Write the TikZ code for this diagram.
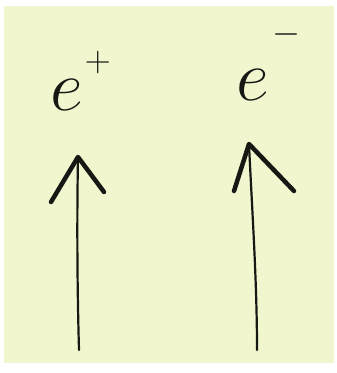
\RequirePackage{fix-cm}
\documentclass[tikz,border=0pt]{standalone}
\definecolor{paper}{RGB}{241,246,206}
\definecolor{ink}{RGB}{22,24,20}
\begin{document}
\begin{tikzpicture}[x=1pt,y=-1pt,
  shaft/.style={draw=ink,line width=2.2pt,line cap=round},
  headline/.style={draw=ink,line width=4.5pt,line cap=round,line join=round},
  lbl/.style={text=ink,inner sep=0pt,anchor=base west,font=\fontsize{72}{80}\selectfont}]
\useasboundingbox (0,0) rectangle (337,373);
\fill[white] (0,0) rectangle (337,373);
\fill[paper] (4,6) rectangle (334,363);
% labels
\node[lbl] (ep) at (50,110) {$e^{\hspace{2pt}\raisebox{12pt}{$\scriptscriptstyle +$}}$};
\node[lbl] (em) at (236,100) {$e^{\hspace{4pt}\raisebox{30pt}{$\scriptscriptstyle -$}}$};
% left arrow
\coordinate (lt) at (79,350);
\coordinate (lh) at (78,157);
\coordinate (la) at (51,202);
\coordinate (lb) at (104,192);
\draw[shaft] (lt) .. controls (77,280) and (77,210) .. (lh);
\draw[headline] (la) -- (lh) -- (lb);
% right arrow
\coordinate (rt) at (257,350);
\coordinate (rh) at (249,144);
\coordinate (ra) at (234,191);
\coordinate (rb) at (294,191);
\draw[shaft] (rt) .. controls (257,280) and (252,210) .. (rh);
\draw[headline] (ra) -- (rh) -- (rb);
\end{tikzpicture}
\end{document}
